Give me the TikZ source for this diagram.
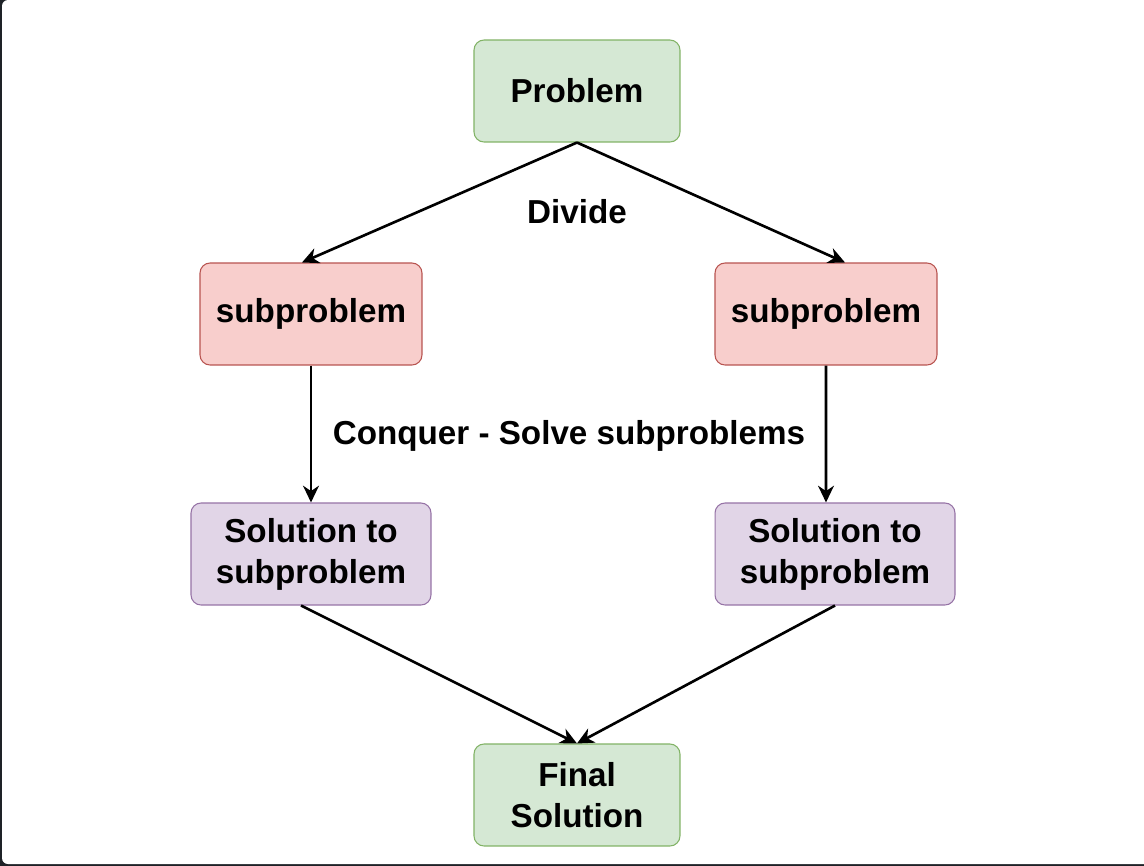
\documentclass[tikz,border=0pt]{standalone}
\usepackage{fontspec}
\setmainfont{Liberation Sans}
\usetikzlibrary{arrows.meta}
\definecolor{frameDark}{HTML}{1E2227}
\definecolor{greenFill}{HTML}{D5E8D4}
\definecolor{greenLine}{HTML}{82B366}
\definecolor{redFill}{HTML}{F8CECC}
\definecolor{redLine}{HTML}{B85450}
\definecolor{purpleFill}{HTML}{E1D5E7}
\definecolor{purpleLine}{HTML}{9673A6}
\begin{document}
\begin{tikzpicture}[x=0.02cm, y=-0.02cm, line join=round,
		font=\fontsize{18.9}{23.3}\selectfont\bfseries,
		>={Stealth[length=9.5pt, width=9pt, inset=3pt]},
		box/.style={rounded corners=0.2cm, line width=0.6pt, align=center,
			minimum height=2.04cm, inner sep=2pt},
		greenbox/.style={box, fill=greenFill, draw=greenLine, minimum width=4.12cm},
		redbox/.style={box, fill=redFill, draw=redLine, minimum width=4.44cm},
		purplebox/.style={box, fill=purpleFill, draw=purpleLine, minimum width=4.8cm},
		link/.style={->, line width=1.5pt}]
				\useasboundingbox (0,0) rectangle (1144,866);
				% screenshot frame
				\fill[frameDark] (0,0) rectangle (1144,866);
				\fill[white, rounded corners=0.12cm] (2,0) rectangle (1150,864);
				
				\node[greenbox] (P) at (577,91) {Problem};
				\node[redbox] (L1) at (311,314) {subproblem};
				\node[redbox] (R1) at (826,314) {subproblem};
				\node[purplebox] (L2) at (311,554) {Solution to\\subproblem};
				\node[purplebox] (R2) at (835,554) {Solution to\\subproblem};
				\node[greenbox] (F) at (577,795) {Final\\Solution};
				
				\draw[link] (P.south) -- ([xshift=-0.18cm]L1.north);
				\draw[link] (P.south) -- ([xshift=0.38cm]R1.north);
				\draw[link] (L1.south) -- (L2.north);
				\draw[link] (R1.south) -- ([xshift=-0.18cm]R2.north);
				\draw[link] ([xshift=-0.2cm]L2.south) -- (F.north);
				\draw[link] (R2.south) -- (F.north);
				
				\node (D) at (577,212) {Divide};
				\node (C) at (569,436) {Conquer - Solve subproblems};
			\end{tikzpicture}
\end{document}
